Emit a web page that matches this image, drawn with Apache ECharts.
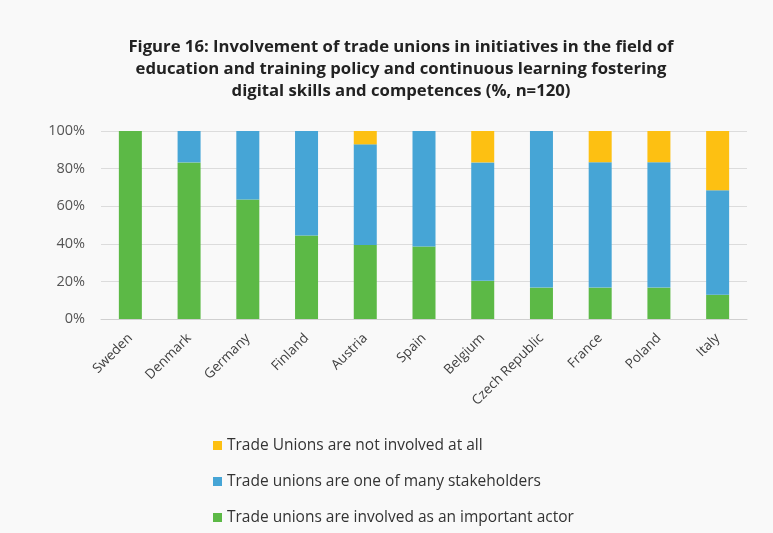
<!DOCTYPE html>
<html>
<head>
<meta charset="utf-8">
<script src="https://cdn.jsdelivr.net/npm/echarts@6/dist/echarts.min.js"></script>
<style>
html,body{margin:0;padding:0;background:#f9f9f9;}
#c{width:773px;height:533px;}
</style>
</head>
<body>
<div id="c"></div>
<script>
const categories = ["Sweden","Denmark","Germany","Finland","Austria","Spain","Belgium","Czech Republic","France","Poland","Italy"];
const important = [100, 83.3, 63.6, 44.4, 39.3, 38.5, 20.3, 16.7, 16.7, 16.7, 12.9];
const stakeholders = [0, 16.7, 36.4, 55.6, 53.6, 61.5, 63.0, 83.3, 66.7, 66.7, 55.6];
const notInvolved = [0, 0, 0, 0, 7.1, 0, 16.7, 0, 16.6, 16.6, 31.5];
const yTicks = [0, 20, 40, 60, 80, 100];

const names = {
  y: "Trade Unions are not involved at all",
  b: "Trade unions are one of many stakeholders",
  g: "Trade unions are involved as an important actor"
};

const chart = echarts.init(document.getElementById('c'));
chart.setOption({
  backgroundColor: '#f9f9f9',
  animation: false,
  title: {
    text: "Figure 16: Involvement of trade unions in initiatives in the field of\neducation and training policy and continuous learning fostering\ndigital skills and competences (%, n=120)",
    left: 396,
    textAlign: 'center',
    top: 31,
    textStyle: {fontFamily: 'Open Sans', fontSize: 16.7, fontWeight: 'bold', color: '#222', lineHeight: 22}
  },
  grid: {left: 101, right: 26, top: 131, bottom: 214},
  xAxis: {
    type: 'category',
    data: categories,
    axisLine: {lineStyle: {color: '#d0d0d0'}},
    axisTick: {show: false},
    axisLabel: {rotate: 45, fontFamily: 'Open Sans', fontSize: 13.5, color: '#404040', interval: 0, margin: 17}
  },
  yAxis: {
    type: 'value',
    min: 0, max: 100, interval: 20,
    axisLabel: {fontFamily: 'Open Sans', fontSize: 14.5, color: '#555', margin: 16,
      formatter: v => yTicks.includes(v) ? v + '%' : ''},
    splitLine: {lineStyle: {color: '#dcdcdc'}},
    axisLine: {show: false},
    axisTick: {show: false}
  },
  legend: {
    orient: 'vertical',
    left: 213,
    top: 436,
    padding: 0,
    itemGap: 17,
    itemWidth: 9,
    itemHeight: 9,
    icon: 'rect',
    data: [names.y, names.b, names.g],
    textStyle: {fontFamily: 'Open Sans', fontSize: 15.5, lineHeight: 19, color: '#333'}
  },
  series: [
    {name: names.g, type: 'bar', stack: 's', data: important, barWidth: 23, itemStyle: {color: '#5cb946'}},
    {name: names.b, type: 'bar', stack: 's', data: stakeholders, barWidth: 23, itemStyle: {color: '#46a5d6'}},
    {name: names.y, type: 'bar', stack: 's', data: notInvolved, barWidth: 23, itemStyle: {color: '#fdc012'}}
  ]
});
</script>
</body>
</html>
